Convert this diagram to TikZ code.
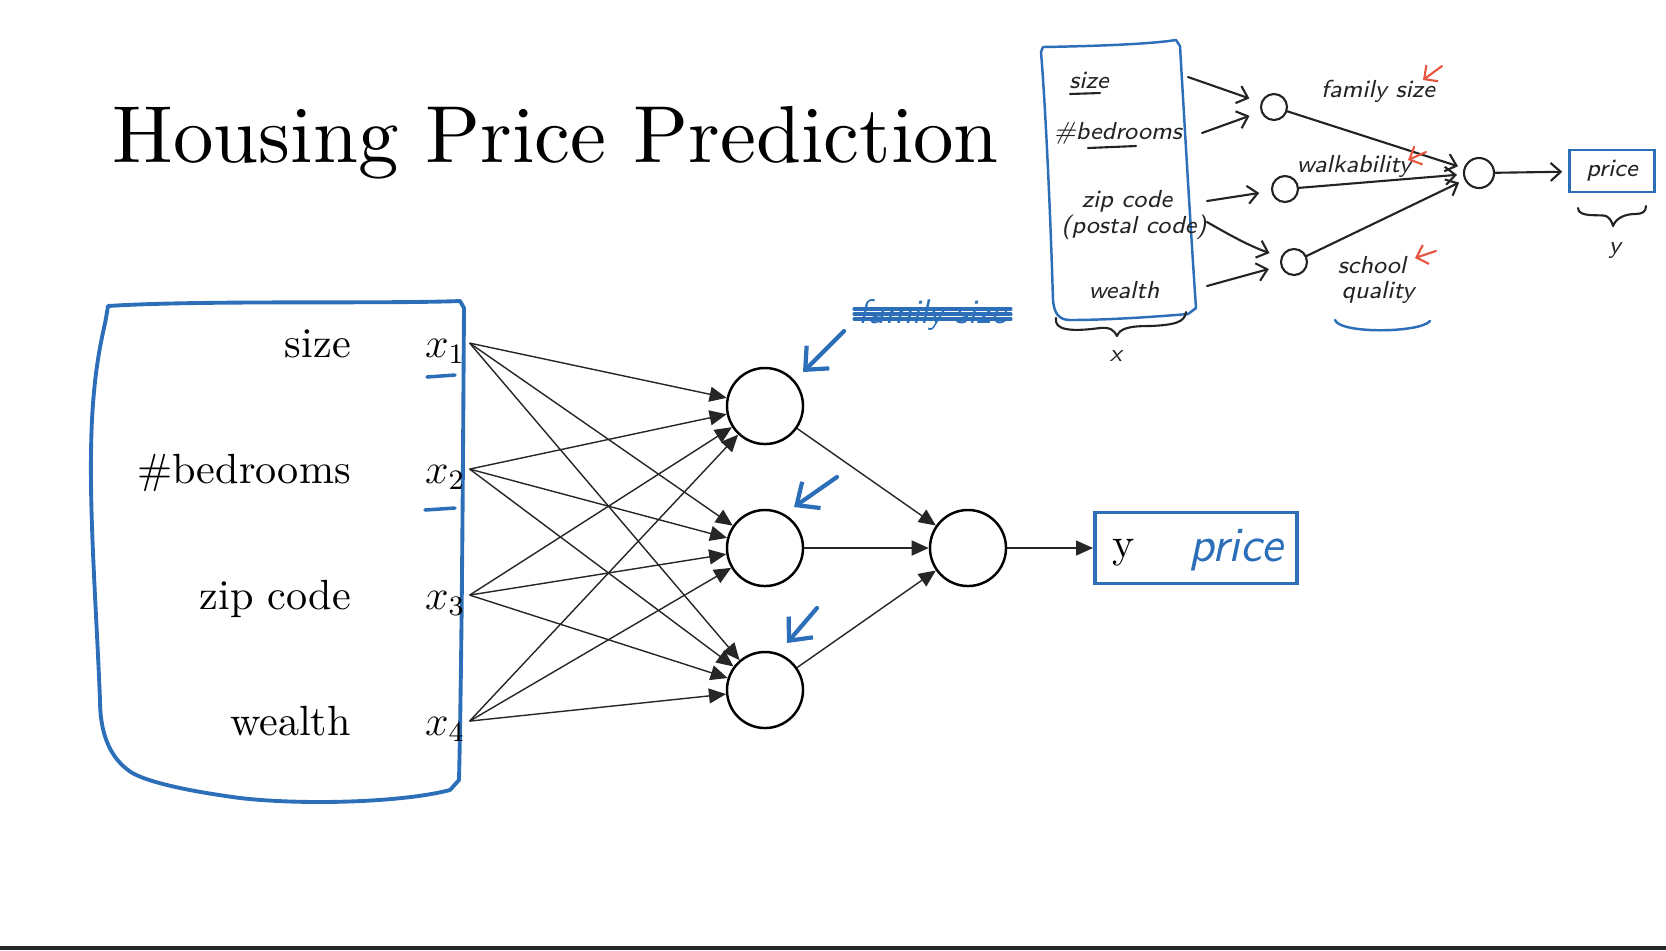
\documentclass[tikz,border=0pt]{standalone}
\usepackage{amsmath}
\usepackage{fontspec}
\setmainfont{lmroman10-regular.otf}
\usepackage{tikz}
\usetikzlibrary{arrows.meta,positioning}
\definecolor{penblue}{RGB}{45,110,185}
\definecolor{penred}{RGB}{232,85,62}
\definecolor{pencil}{RGB}{35,35,35}

\begin{document}
\begin{tikzpicture}[x=0.01cm, y=-0.01cm,
      every node/.style={inner sep=1pt},
      label text/.style={font=\fontsize{12}{14}\selectfont},
      unit/.style={draw, circle, minimum size=0.76cm, inner sep=0pt, line width=0.7pt},
      wire/.style={draw=black!85, line width=0.4pt, -{Triangle[length=1.7mm,width=1.5mm]}},
      blue ink/.style={draw=penblue, line width=1.1pt, line cap=round, line join=round},
      blue arrow/.style={blue ink, line width=1.2pt, -{Straight Barb[length=1.8mm,width=3.2mm]}},
      hand/.style={font=\sffamily\slshape\fontsize{7}{8}\selectfont, text=pencil},
      pen/.style={draw=pencil, line width=0.6pt, line cap=round, line join=round},
      pen arrow/.style={pen, -{Straight Barb[length=1mm,width=1.8mm]}},
      small unit/.style={pen, circle, minimum size=0.26cm, inner sep=0pt},
      red arrow/.style={draw=penred, line width=0.6pt, line cap=round, -{Straight Barb[length=1mm,width=2mm]}}
    ]

    \useasboundingbox (0,0) rectangle (1666,950);
    \fill[black!85] (0,946) rectangle (1666,950);

    % title
    \node[anchor=base west, inner sep=0pt, font=\fontsize{23}{27}\selectfont] (title) at (112,162) {Housing Price Prediction};

    % input box
    \draw[blue ink] (106,318) -- (108,306) .. controls (200,300) and (380,304) .. (460,301)
        -- (464,308) .. controls (463,450) and (462,650) .. (459,780) -- (450,790)
        .. controls (400,803) and (300,805) .. (240,798) .. controls (180,790) and (140,780) .. (128,770)
        .. controls (108,755) and (100,730) .. (100,700) .. controls (96,600) and (88,500) .. (92,420)
        .. controls (95,360) and (104,330) .. (106,318);

    \node[label text, anchor=base east] (size) at (355,357) {size};
    \node[label text, anchor=base east] (bedrooms) at (355,483) {\#bedrooms};
    \node[label text, anchor=base east] (zip) at (355,609) {zip code};
    \node[label text, anchor=base east] (wealth) at (355,735) {wealth};

    \node[label text, anchor=base west] (x1) at (421,357) {$x_1$};
    \node[label text, anchor=base west] (x2) at (421,483) {$x_2$};
    \node[label text, anchor=base west] (x3) at (421,609) {$x_3$};
    \node[label text, anchor=base west] (x4) at (421,735) {$x_4$};
    \draw[blue ink, line width=1pt] (427,377) -- (455,375);
    \draw[blue ink, line width=1pt] (425,510) -- (455,508);

    % hidden and output units
    \node[unit] (h1) at (765,406) {};
    \node[unit] (h2) at (765,548) {};
    \node[unit] (h3) at (765,690) {};
    \node[unit] (out) at (968,548) {};

    \draw[wire] ([yshift=0.08cm]x1.east) -- (h1);
    \draw[wire] ([yshift=0.08cm]x1.east) -- (h2);
    \draw[wire] ([yshift=0.08cm]x1.east) -- (h3);
    \draw[wire] ([yshift=0.08cm]x2.east) -- (h1);
    \draw[wire] ([yshift=0.08cm]x2.east) -- (h2);
    \draw[wire] ([yshift=0.08cm]x2.east) -- (h3);
    \draw[wire] ([yshift=0.08cm]x3.east) -- (h1);
    \draw[wire] ([yshift=0.08cm]x3.east) -- (h2);
    \draw[wire] ([yshift=0.08cm]x3.east) -- (h3);
    \draw[wire] ([yshift=0.08cm]x4.east) -- (h1);
    \draw[wire] ([yshift=0.08cm]x4.east) -- (h2);
    \draw[wire] ([yshift=0.08cm]x4.east) -- (h3);

    \draw[wire] (h1) -- (out);
    \draw[wire] (h2) -- (out);
    \draw[wire] (h3) -- (out);

    % output box
    \node[draw=penblue, line width=1.1pt, minimum width=2.02cm, minimum height=0.71cm] (ybox) at (1196,548) {};
    \node[label text, anchor=base west] (y) at (1108,557) {y};
    \node[font=\sffamily\slshape\fontsize{14}{16}\selectfont, text=penblue] (price) at (1236,550) {price};
    \draw[wire] (out) -- (ybox);

    % notes on the hidden units
    \node[anchor=base west, font=\sffamily\slshape\fontsize{9.7}{12}\selectfont, text=penblue] (fam) at (854,323) {family size};
    \draw[blue ink, line width=0.9pt] ([yshift=0.14cm]fam.base west) -- ([yshift=0.14cm]fam.base east);
    \draw[blue ink, line width=0.9pt] ([yshift=0.09cm]fam.base west) -- ([yshift=0.09cm]fam.base east);
    \draw[blue ink, line width=0.9pt] ([yshift=0.04cm]fam.base west) -- ([yshift=0.04cm]fam.base east);

    \coordinate (n1) at (844,331);
    \coordinate (t1) at (803,372);
    \coordinate (n2) at (837,477);
    \coordinate (t2) at (794,507);
    \coordinate (n3) at (817,608);
    \coordinate (t3) at (787,643);
    \draw[blue arrow] (n1) -- (t1);
    \draw[blue arrow] (n2) -- (t2);
    \draw[blue arrow] (n3) -- (t3);

    % sketch in the corner
    \draw[blue ink, line width=0.7pt] (1041,52) -- (1043,47) .. controls (1100,46) and (1150,44) .. (1176,40)
        -- (1180,46) .. controls (1186,150) and (1192,250) .. (1196,308) -- (1188,314)
        .. controls (1140,318) and (1100,320) .. (1070,320) .. controls (1058,320) and (1054,312) .. (1053,300)
        .. controls (1050,200) and (1045,100) .. (1041,52);

    \node[hand] (isize) at (1089,80) {size};
    \node[hand] (ibed) at (1118,133) {\#bedrooms};
    \node[hand] (izip) at (1127,201) {zip code};
    \node[hand] (ipostal) at (1134,227) {(postal code)};
    \node[hand] (iwealth) at (1124,290) {wealth};
    \draw[pen] (1070,94) -- (1100,93);
    \draw[pen] (1088,148) -- (1136,146);

    \draw[pen] (1056,318) .. controls (1054,330) and (1070,332) .. (1100,328)
        .. controls (1110,327) and (1114,330) .. (1117,336) .. controls (1120,328) and (1130,326) .. (1150,326)
        .. controls (1175,325) and (1185,322) .. (1186,312);
    \node[hand] (ix) at (1116,356) {x};

    \node[small unit] (ih1) at (1274,107) {};
    \node[small unit] (ih2) at (1285,189) {};
    \node[small unit] (ih3) at (1294,262) {};
    \node[small unit, minimum size=0.30cm] (iout) at (1479,173) {};
    \node[hand, draw=penblue, line width=0.7pt, minimum width=0.85cm, minimum height=0.42cm] (iprice) at (1612,171) {price};

    \coordinate (a1) at (1188,77);
    \coordinate (a2) at (1202,133);
    \coordinate (a3) at (1207,201);
    \coordinate (a4) at (1207,222);
    \coordinate (a5) at (1207,286);
    \draw[pen arrow, shorten >=0.12cm] (a1) -- (ih1);
    \draw[pen arrow, shorten >=0.12cm] (a2) -- (ih1);
    \draw[pen arrow, shorten >=0.12cm] (a3) -- (ih2);
    \draw[pen arrow, shorten >=0.12cm] (a4) to[out=-30, in=160] (ih3);
    \draw[pen arrow, shorten >=0.12cm] (a5) -- (ih3);
    \draw[pen arrow, shorten >=0.06cm] (ih1) -- (iout);
    \draw[pen arrow, shorten >=0.06cm] (ih2) -- (iout);
    \draw[pen arrow, shorten >=0.06cm] (ih3) -- (iout);
    \draw[pen arrow, shorten >=0.06cm] (iout) -- (iprice);

    \node[hand] (ifam) at (1378,91) {family size};
    \node[hand] (iwalk) at (1354,166) {walkability};
    \node[hand] (ischool) at (1372,265) {school};
    \node[hand] (iquality) at (1378,292) {quality};
    \draw[blue ink, line width=0.7pt] (1335,320) .. controls (1340,334) and (1420,333) .. (1430,321);

    \draw[pen] (1578,208) .. controls (1578,218) and (1600,214) .. (1606,216)
        .. controls (1610,218) and (1612,222) .. (1613,226) .. controls (1616,218) and (1625,214) .. (1635,214)
        .. controls (1642,214) and (1646,212) .. (1646,206);
    \node[hand] (iy) at (1615,251) {y};

    \coordinate (r1) at (1442,66);
    \coordinate (q1) at (1423,80);
    \coordinate (r2) at (1426,152);
    \coordinate (q2) at (1408,160);
    \coordinate (r3) at (1436,251);
    \coordinate (q3) at (1415,258);
    \draw[red arrow] (r1) -- (q1);
    \draw[red arrow] (r2) -- (q2);
    \draw[red arrow] (r3) -- (q3);
\end{tikzpicture}
\end{document}
